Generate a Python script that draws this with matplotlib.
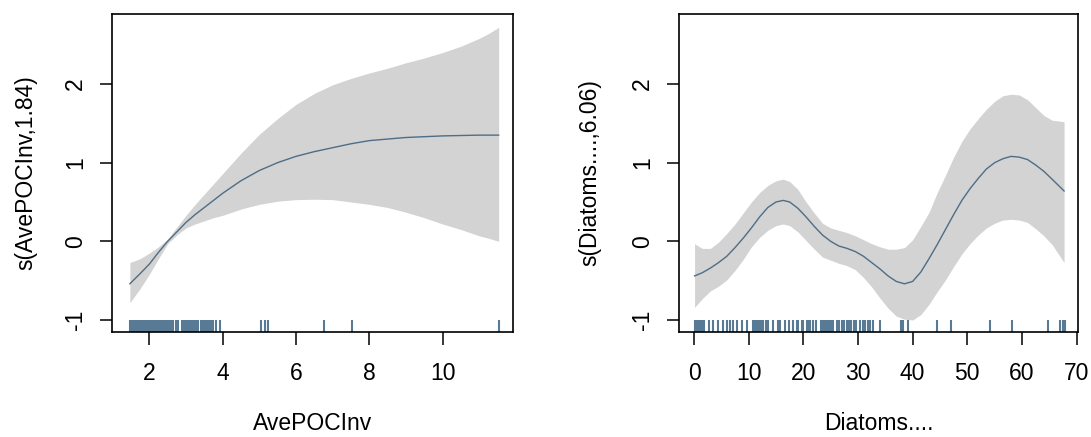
import matplotlib
matplotlib.use("Agg")
import matplotlib.pyplot as plt

plt.rcParams['font.family'] = ['Liberation Sans', 'DejaVu Sans']
plt.rcParams['axes.unicode_minus'] = False

# ---- smooth term s(AvePOCInv) ----
poc_x = [1.47, 1.75, 2.0, 2.25, 2.5, 2.75, 3.0, 3.25, 3.5, 3.75, 4.0, 4.5, 5.0, 5.5,
         6.0, 6.5, 7.0, 7.5, 8.0, 8.5, 9.0, 9.5, 10.0, 10.5, 11.0, 11.25, 11.53]
poc_fit = [-0.54, -0.41, -0.29, -0.14, 0.0, 0.12, 0.24, 0.34, 0.43, 0.52, 0.61, 0.77,
           0.90, 1.00, 1.08, 1.14, 1.19, 1.24, 1.28, 1.30, 1.32, 1.33, 1.34, 1.345,
           1.35, 1.35, 1.35]
poc_upper = [-0.27, -0.22, -0.15, -0.07, 0.03, 0.18, 0.33, 0.47, 0.60, 0.73, 0.86,
             1.12, 1.36, 1.56, 1.74, 1.88, 1.99, 2.07, 2.14, 2.20, 2.27, 2.33, 2.40,
             2.48, 2.58, 2.64, 2.72]
poc_lower = [-0.78, -0.60, -0.42, -0.22, -0.03, 0.08, 0.17, 0.22, 0.26, 0.30, 0.33,
             0.41, 0.47, 0.51, 0.53, 0.535, 0.53, 0.50, 0.47, 0.43, 0.37, 0.30, 0.22,
             0.15, 0.07, 0.04, 0.0]
poc_rug = [1.47, 1.52, 1.57, 1.62, 1.67, 1.72, 1.77, 1.82, 1.87, 1.92, 1.97, 2.02, 2.07,
           2.12, 2.17, 2.22, 2.27, 2.32, 2.37, 2.42, 2.47, 2.52, 2.57, 2.62, 2.65,
           2.72, 2.79, 2.88, 2.93, 2.98, 3.03, 3.08, 3.13, 3.18, 3.23, 3.28, 3.33,
           3.40, 3.45, 3.50, 3.55, 3.60, 3.65, 3.70, 3.74, 3.82, 3.93,
           5.05, 5.16, 5.25, 6.77, 7.52, 11.53]

# ---- smooth term s(Diatoms....) ----
dia_x = [0.1, 1.5, 3.0, 4.5, 6.0, 7.5, 9.0, 10.5, 12.0, 13.5, 15.0, 16.3, 17.5, 19.0,
         20.5, 22.0, 23.5, 25.0, 26.5, 28.0, 29.5, 31.0, 32.5, 34.0, 35.5, 37.0,
         38.5, 40.0, 41.5, 43.0, 44.5, 46.0, 47.5, 49.0, 50.5, 52.0, 53.5, 55.0,
         56.5, 58.0, 59.5, 61.0, 62.5, 64.0, 65.5, 67.7]
dia_fit = [-0.44, -0.40, -0.34, -0.27, -0.19, -0.08, 0.04, 0.17, 0.31, 0.43, 0.50,
           0.52, 0.50, 0.42, 0.31, 0.19, 0.08, 0.00, -0.06, -0.09, -0.13, -0.19,
           -0.27, -0.35, -0.44, -0.51, -0.54, -0.51, -0.39, -0.22, -0.04, 0.15, 0.34,
           0.52, 0.67, 0.80, 0.92, 1.00, 1.05, 1.08, 1.07, 1.04, 0.97, 0.89, 0.79,
           0.64]
dia_upper = [-0.03, -0.09, -0.09, -0.01, 0.10, 0.22, 0.36, 0.50, 0.62, 0.71, 0.77,
             0.79, 0.76, 0.66, 0.50, 0.36, 0.23, 0.17, 0.14, 0.11, 0.07, 0.02, -0.03,
             -0.07, -0.10, -0.10, -0.08, 0.02, 0.19, 0.37, 0.62, 0.84, 1.07, 1.27,
             1.43, 1.56, 1.68, 1.78, 1.85, 1.87, 1.86, 1.80, 1.70, 1.60, 1.54, 1.52]
dia_lower = [-0.84, -0.73, -0.63, -0.57, -0.49, -0.37, -0.23, -0.07, 0.05, 0.14, 0.20,
             0.22, 0.20, 0.12, 0.01, -0.10, -0.20, -0.24, -0.28, -0.31, -0.36, -0.46,
             -0.58, -0.72, -0.85, -0.95, -0.99, -1.00, -0.93, -0.80, -0.64, -0.49,
             -0.32, -0.16, -0.03, 0.08, 0.17, 0.23, 0.27, 0.28, 0.27, 0.24, 0.16, 0.07,
             -0.04, -0.27]
dia_rug = [0.2, 0.5, 0.8, 1.1, 1.4, 1.7, 1.85, 2.8, 3.4, 4.45, 5.36, 5.97, 6.58, 7.19,
           7.93, 8.72, 9.63, 10.8, 11.1, 11.4, 11.7, 12.0, 12.3, 12.7, 13.2, 13.6,
           14.5, 15.4, 15.7, 16.6, 17.3, 18.2, 18.8, 19.1, 19.7, 20.0, 20.6, 20.9,
           21.2, 21.8, 22.4, 23.2, 23.5, 23.8, 24.1, 24.4, 24.7, 25.0, 25.3, 25.5,
           26.1, 26.6, 27.0, 27.4, 27.9, 28.3, 28.8, 29.3, 29.7, 30.4, 30.85, 31.3,
           31.9, 32.2, 32.7, 34.0, 37.8, 38.3, 39.2, 44.5, 47.1, 54.1, 58.1, 64.8,
           66.9, 67.5, 67.9]

poc_ticks = [2, 4, 6, 8, 10]
dia_ticks = [0, 10, 20, 30, 40, 50, 60, 70]
y_ticks = [-1, 0, 1, 2]

BAND = '#d3d3d3'
LINE = '#4e6d86'
RUG = '#587a94'
FS = 16.5

W, H = 1091, 437
fig = plt.figure(figsize=(W / 100, H / 100), dpi=100)


def panel(left, right, top=14.3, bottom=331.7):
    return fig.add_axes([left / W, 1 - bottom / H, (right - left) / W, (bottom - top) / H])


def draw(ax, x, fit, lo, hi, rug, xticks, xlim, xlabel, ylabel, ylab_px, left_px, width_px):
    ax.fill_between(x, lo, hi, color=BAND, linewidth=0)
    ax.plot(x, fit, color=LINE, linewidth=1.0)
    ax.vlines(rug, 0, 0.036, transform=ax.get_xaxis_transform(), color=RUG, linewidth=1.5)
    ax.set_xlim(*xlim)
    ax.set_ylim(-1.149, 2.886)
    ax.set_xticks(xticks)
    ax.set_yticks(y_ticks)
    ax.tick_params(axis='x', length=9.5, width=1.1, pad=12.5, labelsize=FS)
    ax.tick_params(axis='y', length=8.6, width=1.1, pad=9.5, labelsize=FS, labelrotation=90)
    for lab in ax.get_yticklabels():
        lab.set_va('center')
    for sp in ax.spines.values():
        sp.set_linewidth(1.2)
    ax.set_xlabel(xlabel, fontsize=FS, va='baseline')
    ax.xaxis.set_label_coords(0.5, -(430.5 - 331.7) / 317.4)
    ax.set_ylabel(ylabel, fontsize=FS, va='center')
    ax.yaxis.set_label_coords((ylab_px - left_px) / width_px, 0.5)


ax1 = panel(112.3, 513.3)
draw(ax1, poc_x, poc_fit, poc_lower, poc_upper, poc_rug, poc_ticks, (0.99, 11.93),
     'AvePOCInv', 's(AvePOCInv,1.84)', 26, 112.3, 401)

ax2 = panel(679.3, 1078.3)
draw(ax2, dia_x, dia_fit, dia_lower, dia_upper, dia_rug, dia_ticks, (-2.69, 70.3),
     'Diatoms....', 's(Diatoms....,6.06)', 589.5, 679.3, 399)

fig.savefig('out.png', dpi=100)
